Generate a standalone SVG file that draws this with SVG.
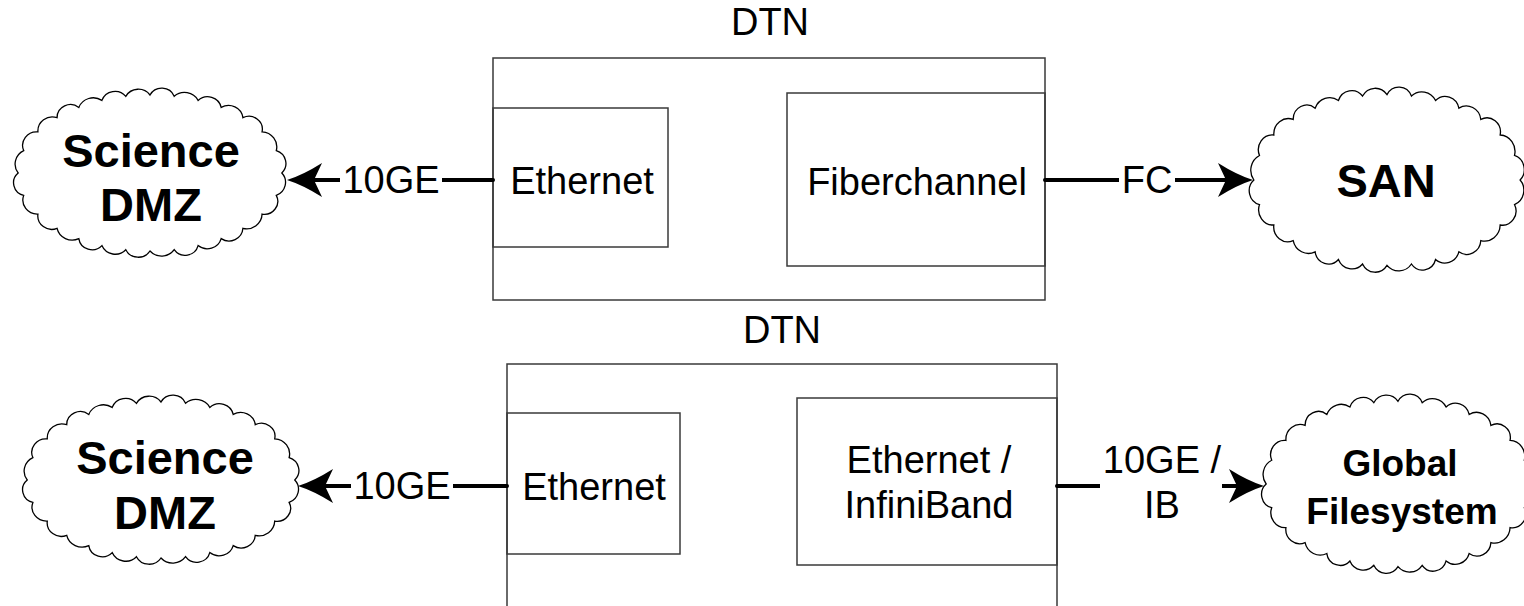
<svg xmlns="http://www.w3.org/2000/svg" xmlns:xlink="http://www.w3.org/1999/xlink" width="1524" height="606" viewBox="0 0 1524 606">
<style>
.box{fill:none;stroke:#3a3a3a;stroke-width:1.5}
.lbl{font-family:"Liberation Sans",Arial,sans-serif;font-size:38px;fill:#000;text-anchor:middle}
.big{font-family:"Liberation Sans",Arial,sans-serif;font-size:47px;font-weight:bold;fill:#000;text-anchor:middle}
.mid{font-family:"Liberation Sans",Arial,sans-serif;font-size:37px;font-weight:bold;fill:#000;text-anchor:middle}
.cloud{fill:#fff;stroke:#000;stroke-width:1.3}
.conn{fill:none;stroke:#000;stroke-width:4;stroke-linecap:round}
.gap{fill:#fff;stroke:none}
</style>
<defs>
<path id="cloudshape" vector-effect="non-scaling-stroke" d="M128,0 A14,14 0 0 1 122.6,22.4 A13,13 0 0 1 108.8,41.1 A15,15 0 0 1 90.2,55.3 A13.5,13.5 0 0 1 69.1,65.6 A14,14 0 0 1 46.7,72.6 A13,13 0 0 1 23.5,76.7 A15,15 0 0 1 0,78 A13.5,13.5 0 0 1 -23.5,76.7 A14,14 0 0 1 -46.7,72.6 A13,13 0 0 1 -69.1,65.6 A15,15 0 0 1 -90.2,55.3 A13.5,13.5 0 0 1 -108.8,41.1 A14,14 0 0 1 -122.6,22.4 A13,13 0 0 1 -128,0 A15,15 0 0 1 -122.6,-22.4 A13.5,13.5 0 0 1 -108.8,-41.1 A14,14 0 0 1 -90.2,-55.3 A13,13 0 0 1 -69.1,-65.6 A15,15 0 0 1 -46.7,-72.6 A13.5,13.5 0 0 1 -23.5,-76.7 A14,14 0 0 1 0,-78 A13,13 0 0 1 23.5,-76.7 A15,15 0 0 1 46.7,-72.6 A13.5,13.5 0 0 1 69.1,-65.6 A14,14 0 0 1 90.2,-55.3 A13,13 0 0 1 108.8,-41.1 A15,15 0 0 1 122.6,-22.4 A13.5,13.5 0 0 1 128,0 Z"/>
<marker id="ah" viewBox="-1 -18 37 36" refX="8" refY="0" markerWidth="37" markerHeight="36" markerUnits="userSpaceOnUse" orient="auto">
<path d="M35,0 Q19,-5 0,-17 L8,0 L0,17 Q19,5 35,0 Z" fill="#000"/>
</marker>
</defs>

<g id="dtn1">
<text class="lbl" x="770" y="35">DTN</text>
<rect class="box" x="493" y="58" width="552" height="242"/>
</g>
<g id="eth1">
<rect class="box" x="493" y="108" width="175" height="139"/>
<text class="lbl" x="582" y="194">Ethernet</text>
</g>
<g id="fc1">
<rect class="box" x="787" y="93" width="258" height="173"/>
<text class="lbl" x="917" y="195">Fiberchannel</text>
</g>
<g id="dmz1">
<use xlink:href="#cloudshape" class="cloud" transform="translate(150,173) scale(1.03,1.0)"/>
<text class="big" x="151" y="167">Science</text>
<text class="big" x="151" y="221">DMZ</text>
</g>
<g id="san">
<use xlink:href="#cloudshape" class="cloud" transform="translate(1387,180) scale(1.04,1.095)"/>
<text class="big" x="1386" y="197">SAN</text>
</g>

<g id="dtn2">
<text class="lbl" x="782" y="343">DTN</text>
<path class="box" d="M507,612 V364 H1057 V612"/>
</g>
<g id="eth2">
<rect class="box" x="507" y="413" width="173" height="141"/>
<text class="lbl" x="594" y="500">Ethernet</text>
</g>
<g id="ethib">
<rect class="box" x="797" y="398" width="260" height="167"/>
<text class="lbl" x="929" y="473">Ethernet /</text>
<text class="lbl" x="929" y="518">InfiniBand</text>
</g>
<g id="dmz2">
<use xlink:href="#cloudshape" class="cloud" transform="translate(161,480) scale(1.045,1.0)"/>
<text class="big" x="165" y="474">Science</text>
<text class="big" x="165" y="529">DMZ</text>
</g>
<g id="gfs">
<use xlink:href="#cloudshape" class="cloud" transform="translate(1398,484) scale(1.03,1.06)"/>
<text class="mid" x="1400" y="476">Global</text>
<text class="mid" x="1402" y="524">Filesystem</text>
</g>

<g id="connectors">
<path class="conn" d="M493,180 L314,180" marker-end="url(#ah)"/>
<rect class="gap" x="340" y="160" width="102" height="40"/>
<text class="lbl" x="391" y="193">10GE</text>

<path class="conn" d="M1045,180 L1226,180" marker-end="url(#ah)"/>
<rect class="gap" x="1119" y="160" width="56" height="40"/>
<text class="lbl" x="1147" y="193">FC</text>

<path class="conn" d="M507,486 L325,486" marker-end="url(#ah)"/>
<rect class="gap" x="351" y="466" width="102" height="40"/>
<text class="lbl" x="402" y="499">10GE</text>

<path class="conn" d="M1057,486 L1237,486" marker-end="url(#ah)"/>
<rect class="gap" x="1100" y="440" width="122" height="90"/>
<text class="lbl" x="1162" y="473">10GE /</text>
<text class="lbl" x="1162" y="518">IB</text>
</g>
</svg>
